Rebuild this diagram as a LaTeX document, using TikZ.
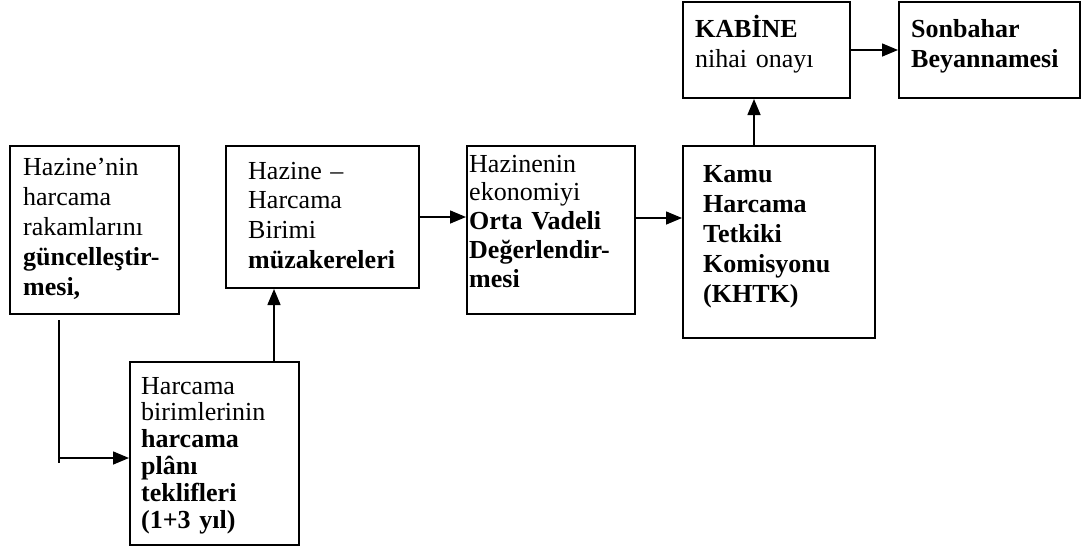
\documentclass[tikz,border=0pt]{standalone}
\usepackage{fontspec}
\setmainfont{Liberation Serif}
\usetikzlibrary{arrows.meta}
\tikzset{
  box/.style={draw,line width=2pt,anchor=north west,inner sep=0pt},
  txt/.style={anchor=base west,align=left,inner sep=0pt,text width=190pt,
    font=\fontsize{26}{30}\selectfont},
  arr/.style={line width=1.5pt,-{Triangle[length=16pt,width=13pt]}}
}

\begin{document}
\begin{tikzpicture}[x=1pt,y=-1pt]
    \useasboundingbox (0,0) rectangle (1083,557);
    % boxes
    \node[box,minimum width=169,minimum height=168] (upd) at (9,145) {};
    \node[box,minimum width=169,minimum height=183] (plan) at (129,361) {};
    \node[box,minimum width=193,minimum height=142] (neg) at (225,145) {};
    \node[box,minimum width=168,minimum height=168] (eval) at (466,145) {};
    \node[box,minimum width=192,minimum height=192] (khtk) at (682,145) {};
    \node[box,minimum width=167,minimum height=96] (cab) at (682,1) {};
    \node[box,minimum width=181,minimum height=96] (fall) at (898,1) {};
    % texts
    \node[txt] (upd-t) at (23,175) {Hazine'nin\\harcama\\rakamlarını\\\textbf{güncelleştir-}\\\textbf{mesi,}};
    \node[txt,font=\fontsize{26}{26.8}\selectfont] (plan-t) at (141,394) {Harcama\\birimlerinin\\\textbf{harcama}\\\textbf{plânı}\\\textbf{teklifleri}\\\textbf{(1+3 yıl)}};
    \node[txt,font=\fontsize{26}{29.7}\selectfont] (neg-t) at (248,179) {Hazine --\\Harcama\\Birimi\\\textbf{müzakereleri}};
    \node[txt,font=\fontsize{26}{28.8}\selectfont] (eval-t) at (469,172) {Hazinenin\\ekonomiyi\\\textbf{Orta Vadeli}\\\textbf{Değerlendir-}\\\textbf{mesi}};
    \node[txt,font=\bfseries\fontsize{26}{30}\selectfont] (khtk-t) at (703,182) {Kamu\\Harcama\\Tetkiki\\Komisyonu\\(KHTK)};
    \node[txt] (cab-t) at (695,37) {\textbf{KABİNE}\\nihai onayı};
    \node[txt,font=\bfseries\fontsize{26}{30}\selectfont] (fall-t) at (911,37) {Sonbahar\\Beyannamesi};
    % connectors
    \coordinate (turn) at ([xshift=-35.5,yshift=-4.5]upd.south |- plan.west);
    \draw[line width=1.5pt] ([xshift=-35.5,yshift=-5]upd.south) -- ([yshift=-5]turn);
    \draw[arr] (turn) -- (turn -| plan.west);
    \draw[arr] ([xshift=59.5]plan.north) -- ([xshift=59.5]plan.north |- neg.south);
    \draw[arr] (neg.east) -- (neg.east -| eval.west);
    \draw[arr] ([yshift=12]eval.east) -- ([yshift=12]eval.east -| khtk.west);
    \draw[arr] ([xshift=-25]khtk.north) -- ([xshift=-25]khtk.north |- cab.south);
    \draw[arr] (cab.east) -- (fall.west);
\end{tikzpicture}
\end{document}
